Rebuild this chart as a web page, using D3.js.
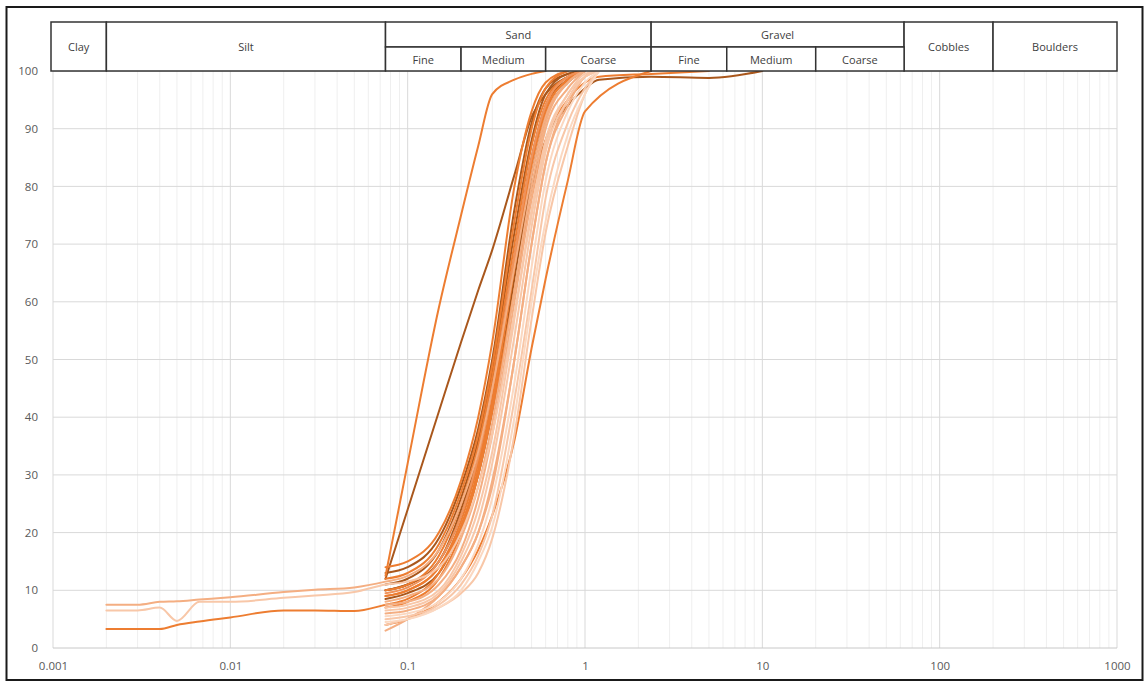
<!DOCTYPE html>
<html>
<head>
<meta charset="utf-8">
<script src="https://cdn.jsdelivr.net/npm/d3@7"></script>
<style>
  html, body { margin: 0; padding: 0; background: #fff; }
  svg { display: block; }
  text { font-family: "Open Sans", "Noto Sans", sans-serif; }
</style>
</head>
<body>
<div id="chart"></div>
<script>
// ---------- DATA ----------
const xTickValues = [0.001, 0.01, 0.1, 1, 10, 100, 1000];
const xTickLabels = ["0.001", "0.01", "0.1", "1", "10", "100", "1000"];
const yTickValues = [0, 10, 20, 30, 40, 50, 60, 70, 80, 90, 100];

// Soil classification header (top row and sub-row), boundaries in mm
const mainClasses = ["Clay", "Silt", "Sand", "Gravel", "Cobbles", "Boulders"];
const mainBounds = [[0.001, 0.002], [0.002, 0.075], [0.075, 2.36], [2.36, 63], [63, 200], [200, 1000]];
const mainHasSub = [false, false, true, true, false, false];
const subClasses = ["Fine", "Medium", "Coarse", "Fine", "Medium", "Coarse"];
const subBounds = [[0.075, 0.2], [0.2, 0.6], [0.6, 2.36], [2.36, 6.3], [6.3, 20], [20, 63]];

// Hydrometer sizes (mm) and % passing for the three samples that have them
const hydroSizes = [0.002, 0.003, 0.004, 0.005, 0.0067, 0.01, 0.02, 0.03, 0.05];
const hydroPassing = [
  [7.5, 7.5, 8.0, 8.1, 8.4, 8.8, 9.7, 10.1, 10.5],
  [6.5, 6.5, 7.0, 4.7, 8.0, 8.0, 8.7, 9.1, 9.7],
  [3.3, 3.3, 3.3, 4.0, 4.6, 5.3, 6.5, 6.5, 6.4]
];
const hydroSeries = [0, 1, 2]; // index into sievePassing

// Sieve sizes (mm) and % passing for every sample
const sieveSizes = [0.075, 0.1, 0.15, 0.2, 0.25, 0.3, 0.4, 0.5, 0.6, 0.8, 1.0, 1.2, 2.36, 5, 10];
const sievePassing = [
  [11.5, 12.5, 17, 25, 34, 45, 66, 82, 92, 98, 100],
  [11, 11.5, 14, 20, 28, 37, 58, 75, 87, 96, 99, 100],
  [7.5, 8.5, 13, 21, 31, 43, 67, 84, 93, 98.5, 100],
  [12.5, 32, 59, 75, 87, 96, 98.5, 99.5, 100],
  [12, 24, 41, 53, 62, 69, 82, 92, 96, 99, 100],
  [14, 15, 20, 29, 40, 53, 80, 93, 98, 100],
  [13, 14, 19, 28, 38, 50, 76, 91, 97, 99.5, 100],
  [12, 13, 18, 27, 37, 49, 74, 90, 97, 100],
  [11, 12, 17, 26, 36, 48, 72, 88, 96, 99.5, 100],
  [10, 11, 16, 25, 35, 47, 70, 87, 95, 99, 100],
  [10, 11, 15, 24, 34, 46, 68, 85, 94, 98.5, 100],
  [9.5, 10.5, 15, 23, 33, 45, 68, 85, 94, 99, 100],
  [9, 10, 14, 22, 32, 43, 66, 84, 93, 98.5, 100],
  [8.5, 9.5, 13, 21, 30, 41, 64, 82, 92, 98, 100],
  [10, 11, 15, 23, 33, 45, 65, 80, 88, 94, 97, 98.5, 99, 98.8, 100],
  [9, 10, 14, 21, 30, 41, 62, 78, 88, 95, 98, 99, 99.5, 100],
  [7, 8, 12, 20, 30, 42, 66, 84, 94, 99, 100],
  [4, 5, 8, 12, 17, 23, 36, 52, 64, 81, 93, null, 100],
  [8, 9, 12, 19, 28, 39, 62, 80, 91, 98, 100],
  [7.5, 8, 11, 17, 26, 37, 60, 78, 90, 97, 100],
  [6, 6.5, 9, 14, 20, 29, 50, 70, 84, 94, 99, 100],
  [3, 5, 9, 14, 20, 28, 50, 70, 84, 95, 99, 100],
  [7, 7.5, 10, 16, 24, 34, 57, 76, 88, 96, 99.5, 100],
  [6.5, 7, 9.5, 15, 22, 32, 54, 73, 86, 95, 99, 100],
  [5, 5.5, 7.5, 11, 16, 23, 43, 62, 78, 91, 97, 100],
  [5.5, 6, 8, 12, 18, 26, 46, 66, 81, 93, 98, 100],
  [4.5, 5, 7, 10, 15, 21, 40, 60, 74, 89, 96, 100],
  [4, 5, 7, 9.5, 13, 19, 37, 57, 72, 87, 96, 100]
];
const seriesShade = [3, 4, 1, 1, 0, 1, 0, 1, 0, 1, 0, 2, 1, 0, 0, 1, 1, 1, 3, 3, 3, 3, 4, 4, 4, 5, 5, 4];
const shadePalette = ["#a9571c", "#ed7d31", "#f0925a", "#f4ae82", "#f8c7a8", "#fbd8c1"];

// ---------- CHART ----------
const W = 1148, H = 682;
const svg = d3.select("#chart").append("svg").attr("width", W).attr("height", H);

const x = d3.scaleLog().domain([0.001, 1000]).range([53, 1117]);
const y = d3.scaleLinear().domain([0, 100]).range([648, 71]);

// outer border
svg.append("rect").attr("x", 6.5).attr("y", 7).attr("width", 1136).attr("height", 673)
  .attr("fill", "#fff").attr("stroke", "#1a1a1a").attr("stroke-width", 2);

// minor vertical gridlines
const minor = [];
xTickValues.slice(0, -1).forEach(d => { for (let k = 2; k <= 9; k++) minor.push(d * k); });
svg.append("g").selectAll("line").data(minor).join("line")
  .attr("x1", d => x(d)).attr("x2", d => x(d)).attr("y1", y(100)).attr("y2", y(0))
  .attr("stroke", "#efefef").attr("stroke-width", 1);

// major vertical gridlines
svg.append("g").selectAll("line").data(xTickValues).join("line")
  .attr("x1", d => x(d)).attr("x2", d => x(d)).attr("y1", y(100)).attr("y2", y(0))
  .attr("stroke", "#d9d9d9").attr("stroke-width", 1);

// horizontal gridlines
svg.append("g").selectAll("line").data(yTickValues).join("line")
  .attr("x1", x(0.001)).attr("x2", x(1000)).attr("y1", d => y(d)).attr("y2", d => y(d))
  .attr("stroke", d => d === 0 ? "#c8c8c8" : "#d9d9d9").attr("stroke-width", 1);

// axes
const yAxis = svg.append("g").attr("transform", `translate(${x(0.001)},0)`)
  .call(d3.axisLeft(y).tickValues(yTickValues).tickSize(0).tickPadding(15));
yAxis.select(".domain").remove();
yAxis.selectAll("text").attr("fill", "#595959").style("font-size", "11.5px")
  .style("font-family", "'Open Sans', sans-serif");

const xAxis = svg.append("g").attr("transform", `translate(0,${y(0)})`)
  .call(d3.axisBottom(x).tickValues(xTickValues).tickSize(0).tickPadding(14)
    .tickFormat((d, i) => xTickLabels[i]));
xAxis.select(".domain").remove();
xAxis.selectAll("text").attr("fill", "#595959").style("font-size", "11.5px")
  .style("font-family", "'Open Sans', sans-serif");

// curves
const line = d3.line().x(d => x(d[0])).y(d => y(d[1])).curve(d3.curveMonotoneX);
const seriesPoints = sievePassing.map((vals, i) => {
  let pts = [];
  const h = hydroSeries.indexOf(i);
  if (h >= 0) pts = hydroSizes.map((s, j) => [s, hydroPassing[h][j]]);
  vals.forEach((v, j) => { if (v != null) pts.push([sieveSizes[j], v]); });
  return { pts, shade: seriesShade[i] };
});
const order = seriesPoints.map((d, i) => i).sort((a, b) => seriesPoints[a].shade - seriesPoints[b].shade);
svg.append("g").attr("fill", "none").selectAll("path").data(order.map(i => seriesPoints[i])).join("path")
  .attr("d", d => line(d.pts))
  .attr("stroke", d => shadePalette[d.shade])
  .attr("stroke-width", 2)
  .attr("stroke-linejoin", "round").attr("stroke-linecap", "round");

// header table
const topY = 22, midY = 47, botY = 71;
const hdr = svg.append("g");
mainClasses.forEach((name, i) => {
  const x0 = x(mainBounds[i][0]) - (i === 0 ? 2 : 0), x1 = x(mainBounds[i][1]);
  const yb = mainHasSub[i] ? midY : botY;
  hdr.append("rect").attr("x", x0).attr("y", topY).attr("width", x1 - x0).attr("height", yb - topY)
    .attr("fill", "#fff").attr("stroke", "#333").attr("stroke-width", 1.5);
  hdr.append("text").attr("x", (x0 + x1) / 2).attr("y", (topY + yb) / 2)
    .attr("text-anchor", "middle").attr("dominant-baseline", "central")
    .attr("fill", "#404040").style("font-size", "11px").text(name);
});
subClasses.forEach((name, i) => {
  const x0 = x(subBounds[i][0]), x1 = x(subBounds[i][1]);
  hdr.append("rect").attr("x", x0).attr("y", midY).attr("width", x1 - x0).attr("height", botY - midY)
    .attr("fill", "#fff").attr("stroke", "#333").attr("stroke-width", 1.5);
  hdr.append("text").attr("x", (x0 + x1) / 2).attr("y", (midY + botY) / 2)
    .attr("text-anchor", "middle").attr("dominant-baseline", "central")
    .attr("fill", "#404040").style("font-size", "11px").text(name);
});
</script>
</body>
</html>
